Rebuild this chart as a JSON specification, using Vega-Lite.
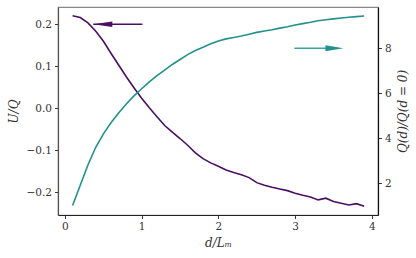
{
  "$schema": "https://vega.github.io/schema/vega-lite/v6.json",
  "width": 320,
  "height": 208,
  "autosize": {"type": "none"},
  "padding": {"left": 58, "top": 7, "right": 38, "bottom": 43},
  "background": "white",
  "config": {
    "view": {"stroke": "#888", "strokeWidth": 1.2},
    "font": "DejaVu Serif",
    "axis": {
      "grid": false,
      "labelFont": "DejaVu Serif",
      "labelFontSize": 10.5,
      "labelColor": "#333",
      "titleFont": "DejaVu Serif",
      "titleFontStyle": "italic",
      "titleFontWeight": "normal",
      "titleFontSize": 12,
      "titleColor": "#333",
      "tickSize": 3.5,
      "tickWidth": 0.9,
      "tickColor": "#222",
      "labelPadding": 3,
      "domainWidth": 1.2
    }
  },
  "datasets": {
    "u": [
      {"x": 0.1, "u": 0.220}, {"x": 0.2, "u": 0.216}, {"x": 0.3, "u": 0.203}, {"x": 0.4, "u": 0.184},
      {"x": 0.5, "u": 0.160}, {"x": 0.6, "u": 0.131}, {"x": 0.7, "u": 0.103}, {"x": 0.8, "u": 0.075},
      {"x": 0.9, "u": 0.049}, {"x": 1.0, "u": 0.024}, {"x": 1.1, "u": 0.001}, {"x": 1.2, "u": -0.020},
      {"x": 1.3, "u": -0.041}, {"x": 1.4, "u": -0.057}, {"x": 1.5, "u": -0.072}, {"x": 1.6, "u": -0.088},
      {"x": 1.7, "u": -0.106}, {"x": 1.8, "u": -0.120}, {"x": 1.9, "u": -0.130}, {"x": 2.0, "u": -0.138},
      {"x": 2.1, "u": -0.147}, {"x": 2.2, "u": -0.153}, {"x": 2.3, "u": -0.158}, {"x": 2.4, "u": -0.165},
      {"x": 2.5, "u": -0.177}, {"x": 2.6, "u": -0.183}, {"x": 2.7, "u": -0.188}, {"x": 2.8, "u": -0.192},
      {"x": 2.9, "u": -0.196}, {"x": 3.0, "u": -0.202}, {"x": 3.1, "u": -0.207}, {"x": 3.2, "u": -0.211},
      {"x": 3.3, "u": -0.218}, {"x": 3.4, "u": -0.214}, {"x": 3.5, "u": -0.222}, {"x": 3.6, "u": -0.226},
      {"x": 3.7, "u": -0.230}, {"x": 3.8, "u": -0.227}, {"x": 3.9, "u": -0.233}
    ],
    "q": [
      {"x": 0.1, "q": 1.0}, {"x": 0.2, "q": 1.9}, {"x": 0.3, "q": 2.8}, {"x": 0.4, "q": 3.58},
      {"x": 0.5, "q": 4.18}, {"x": 0.6, "q": 4.68}, {"x": 0.7, "q": 5.12}, {"x": 0.8, "q": 5.52},
      {"x": 0.9, "q": 5.88}, {"x": 1.0, "q": 6.2}, {"x": 1.1, "q": 6.5}, {"x": 1.2, "q": 6.78},
      {"x": 1.3, "q": 7.03}, {"x": 1.4, "q": 7.28}, {"x": 1.5, "q": 7.5}, {"x": 1.6, "q": 7.72},
      {"x": 1.7, "q": 7.9}, {"x": 1.8, "q": 8.05}, {"x": 1.9, "q": 8.2}, {"x": 2.0, "q": 8.33},
      {"x": 2.1, "q": 8.42}, {"x": 2.2, "q": 8.48}, {"x": 2.3, "q": 8.55}, {"x": 2.4, "q": 8.63},
      {"x": 2.5, "q": 8.71}, {"x": 2.6, "q": 8.77}, {"x": 2.7, "q": 8.83}, {"x": 2.8, "q": 8.9},
      {"x": 2.9, "q": 8.96}, {"x": 3.0, "q": 9.04}, {"x": 3.1, "q": 9.1}, {"x": 3.2, "q": 9.16},
      {"x": 3.3, "q": 9.23}, {"x": 3.4, "q": 9.27}, {"x": 3.5, "q": 9.31}, {"x": 3.6, "q": 9.35},
      {"x": 3.7, "q": 9.38}, {"x": 3.8, "q": 9.41}, {"x": 3.9, "q": 9.44}
    ],
    "uarrow": [{"x": 0.37, "x2": 1.01, "u": 0.2}],
    "qarrow": [{"x": 2.99, "x2": 3.5, "tip": 3.63, "q": 8.0}]
  },
  "encoding": {
    "x": {
      "field": "x", "type": "quantitative",
      "scale": {"domain": [-0.09, 4.08], "nice": false, "zero": false},
      "axis": {"title": "d/Lₘ", "values": [0, 1, 2, 3, 4], "format": "d", "domainColor": "#222", "titlePadding": 5}
    }
  },
  "layer": [
    {
      "encoding": {
        "y": {
          "field": "u", "type": "quantitative",
          "scale": {"domain": [-0.254, 0.241], "nice": false, "zero": false},
          "axis": {"title": "U/Q", "orient": "left", "values": [-0.2, -0.1, 0, 0.1, 0.2], "format": ".1f", "domainColor": "#555", "titlePadding": 6}
        }
      },
      "layer": [
        {"data": {"name": "u"}, "mark": {"type": "line", "color": "#4a0f62", "strokeWidth": 1.6}},
        {"data": {"name": "uarrow"}, "mark": {"type": "rule", "color": "#4a0f62", "strokeWidth": 1.5}, "encoding": {"x2": {"field": "x2"}}},
        {"data": {"name": "uarrow"}, "mark": {"type": "point", "shape": "M0,0 L2,-0.3 L2,0.3 Z", "size": 361, "filled": true, "opacity": 1, "color": "#4a0f62", "strokeWidth": 0}}
      ]
    },
    {
      "encoding": {
        "y": {
          "field": "q", "type": "quantitative",
          "scale": {"domain": [0.575, 9.84], "nice": false, "zero": false},
          "axis": {"title": "Q(d)/Q(d = 0)", "orient": "right", "values": [2, 4, 6, 8], "format": "d", "domainColor": "#111", "titleAngle": 270, "titleBaseline": "top", "titlePadding": 6}
        }
      },
      "layer": [
        {"data": {"name": "q"}, "mark": {"type": "line", "color": "#21918c", "strokeWidth": 1.6}},
        {"data": {"name": "qarrow"}, "mark": {"type": "rule", "color": "#3aa39c", "strokeWidth": 1.5}, "encoding": {"x2": {"field": "x2"}}},
        {"data": {"name": "qarrow"}, "mark": {"type": "point", "shape": "M0,0 L-2,-0.33 L-2,0.33 Z", "size": 324, "filled": true, "opacity": 1, "color": "#21918c", "strokeWidth": 0}, "encoding": {"x": {"field": "tip", "type": "quantitative"}}}
      ]
    }
  ],
  "resolve": {"scale": {"y": "independent"}}
}
